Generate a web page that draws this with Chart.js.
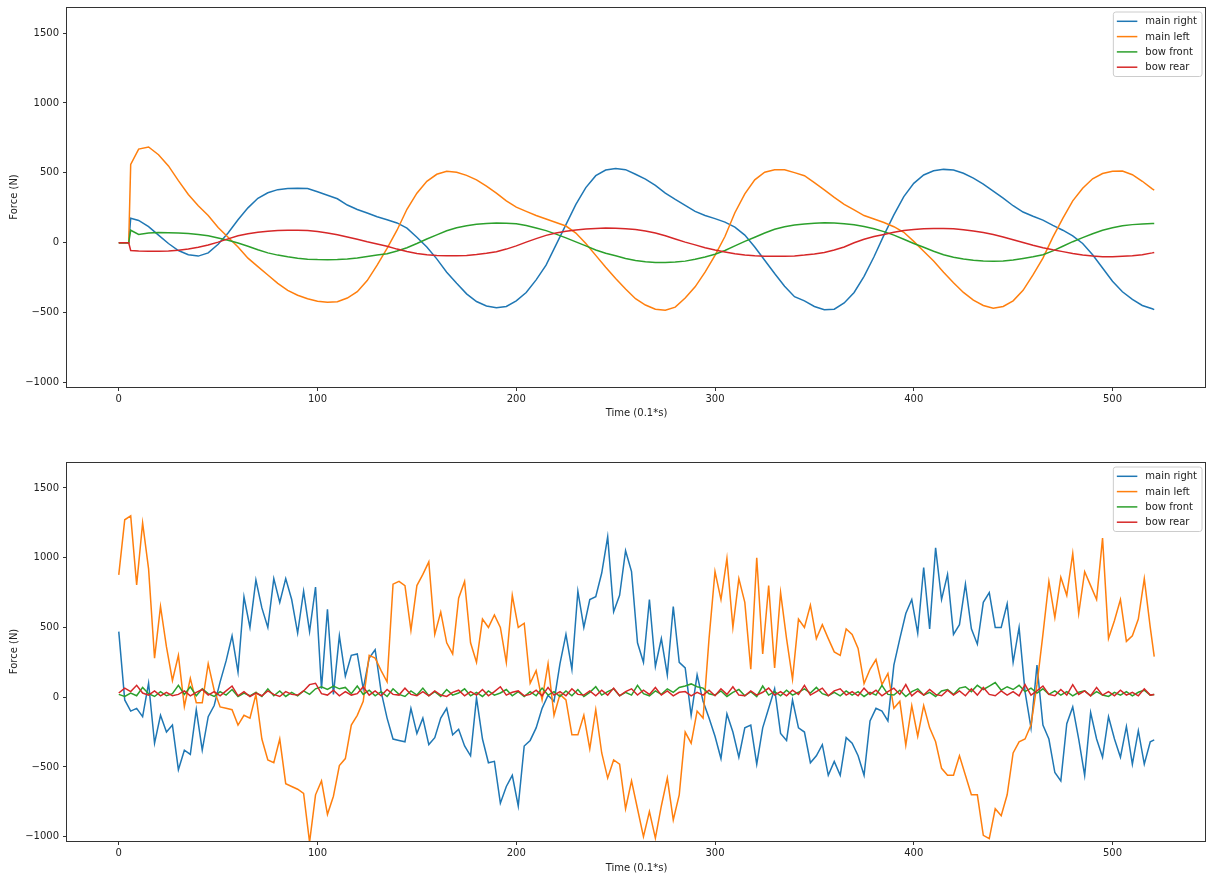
<!DOCTYPE html>
<html>
<head>
<meta charset="utf-8">
<script src="https://cdn.jsdelivr.net/npm/chart.js@4.4.1/dist/chart.umd.min.js"></script>
<style>
  html, body { margin: 0; padding: 0; background: #fff; }
  #wrap { position: relative; width: 1207px; height: 876px; }
  canvas { position: absolute; left: 0; }
</style>
</head>
<body>
<div id="wrap">
  <canvas id="chart-top" width="1207" height="422" style="top:0px"></canvas>
  <canvas id="chart-bottom" width="1207" height="454" style="top:422px"></canvas>
</div>
<script>
const seriesNames = ['main right', 'main left', 'bow front', 'bow rear'];
const seriesColors = ['#1f77b4', '#ff7f0e', '#2ca02c', '#d62728'];
const xTicks = [0, 100, 200, 300, 400, 500];
const yTicks = [-1000, -500, 0, 500, 1000, 1500];
const xRange = [-26.05, 547.05];
const yRange = [-1031, 1686];

// sample times (0.1 s): top plot every 5, plus the start jump and the last sample
const timeTop = [0, 5, 6];
for (let t = 10; t <= 520; t += 5) timeTop.push(t);
timeTop.push(521);

// bottom plot sampled every 3, plus the last sample
const timeBottom = [];
for (let t = 0; t <= 519; t += 3) timeBottom.push(t);
timeBottom.push(521);

// ---- top plot (smooth) ----
const mainRightTop = [0, 0, 175,
  160, 115, 55, -5, -55, -85, -95, -72, -10, 70,
  165, 250, 318, 358, 380, 388, 390, 388, 365, 340,
  315, 270, 238, 213, 186, 165, 142, 105, 40, -30,
  -115, -210, -290, -365, -420, -452, -465, -455, -415, -355,
  -265, -160, -15, 130, 275, 395, 480, 520, 532, 523,
  490, 455, 410, 355, 310, 268, 225, 195, 173, 148,
  112, 55, -30, -125, -220, -310, -385, -415, -455, -478,
  -475, -430, -355, -240, -100, 55, 200, 330, 425, 485,
  515, 525, 520, 497, 462, 420, 370, 320, 265, 220,
  190, 162, 125, 90, 50, -5, -85, -180, -275, -350,
  -405, -448, -472, -478];
const mainLeftTop = [0, 0, 560,
  670, 685, 630, 550, 445, 345, 265, 195, 110, 40,
  -30, -110, -170, -230, -290, -340, -375, -400, -418, -425,
  -422, -395, -350, -270, -160, -40, 90, 240, 355, 440,
  490, 512, 505, 482, 450, 405, 355, 300, 255, 225,
  195, 170, 145, 120, 70, -5, -90, -175, -255, -330,
  -400, -445, -475, -482, -460, -395, -315, -210, -90, 45,
  215, 350, 450, 505, 523, 522, 502, 480, 430, 378,
  325, 275, 235, 195, 170, 145, 115, 75, 10, -60,
  -130, -210, -285, -355, -410, -448, -468, -455, -415, -340,
  -230, -110, 40, 175, 300, 390, 458, 495, 512, 513,
  487, 440, 385, 377];
const bowFrontTop = [0, 0, 90,
  60, 70, 73, 72, 70, 66, 60, 50, 35, 18,
  -2, -25, -50, -72, -88, -100, -110, -117, -120, -121,
  -120, -115, -108, -98, -88, -78, -58, -35, -5, 27,
  57, 86, 108, 122, 132, 138, 141, 140, 136, 124,
  106, 87, 62, 35, 7, -22, -51, -75, -93, -112,
  -126, -135, -140, -141, -138, -131, -118, -102, -82, -55,
  -22, 10, 40, 70, 97, 115, 128, 135, 140, 143,
  141, 136, 129, 116, 100, 80, 55, 25, -5, -32,
  -60, -85, -103, -116, -125, -130, -131, -130, -123, -112,
  -100, -85, -58, -25, 8, 37, 65, 90, 108, 122,
  130, 135, 138, 138];
const bowRearTop = [0, 0, -55,
  -58, -60, -60, -58, -54, -44, -32, -16, 5, 28,
  50, 65, 76, 83, 88, 90, 90, 88, 80, 70,
  58, 42, 25, 7, -8, -25, -45, -62, -76, -85,
  -90, -93, -92, -90, -84, -75, -64, -45, -22, 5,
  30, 53, 70, 82, 92, 98, 102, 105, 104, 101,
  95, 85, 70, 50, 27, 5, -15, -35, -52, -65,
  -78, -87, -93, -96, -97, -97, -94, -88, -80, -70,
  -52, -30, 0, 25, 45, 60, 75, 88, 95, 100,
  102, 102, 100, 94, 85, 74, 60, 42, 22, 2,
  -18, -35, -50, -63, -77, -87, -95, -99, -99, -96,
  -92, -85, -72, -69];

// ---- bottom plot (noisy) ----
const mainRightBottom = [
  470, -20, -100, -80, -140, 100, -330, -130, -250, -200,
  -520, -380, -410, -90, -380, -140, -60, 110, 260, 440,
  180, 720, 500, 840, 640, 500, 850, 680, 850, 700,
  460, 760, 470, 790, 60, 630, 20, 440, 150, 300,
  310, 60, 280, 340, 40, -150, -300, -310, -320, -80,
  -260, -150, -340, -290, -150, -80, -270, -230, -350, -420,
  -5, -300, -470, -460, -760, -640, -560, -780, -350, -310,
  -220, -80, 14, -30, 240, 450, 200, 760, 500, 700,
  720, 890, 1150, 612, 730, 1050, 900, 390, 250, 700,
  220, 420, 160, 650, 250, 210, -130, 160, -30, -150,
  -280, -440, -120, -250, -430, -220, -200, -480, -220, -80,
  60, -260, -310, -20, -220, -250, -470, -420, -340, -560,
  -460, -560, -290, -330, -420, -560, -170, -80, -100, -170,
  230, 420, 600, 700, 460, 930, 490, 1070, 700, 880,
  450, 520, 810, 490, 380, 680, 750, 500, 500, 670,
  250, 500, 40, -220, 230, -200, -300, -540, -600, -190,
  -70, -300, -560, -110, -300, -430, -140, -300, -430, -210,
  -480, -240, -480, -320, -306];
const mainLeftBottom = [
  877, 1272, 1300, 805, 1250, 920, 280, 650, 360, 120,
  300, -67, 135, -40, -40, 240, 50, -70, -80, -90,
  -200, -130, -150, 20, -300, -450, -470, -300, -620, -640,
  -660, -690, -1040, -700, -600, -840, -710, -490, -440, -200,
  -130, -30, 300, 280, 190, 110, 810, 830, 800, 480,
  800, 880, 970, 450, 610, 390, 310, 710, 830, 390,
  250, 560, 500, 590, 500, 250, 730, 500, 530, 100,
  190, -20, 240, -130, 20, -20, -270, -270, -130, -370,
  -90, -400, -580, -450, -480, -800, -600, -800, -1000, -820,
  -1010, -780, -580, -880, -700, -250, -330, -100, -150, 420,
  900, 700, 995, 500, 850, 680, 200, 1000, 310, 800,
  210, 750, 420, 130, 560, 500, 660, 420, 520, 420,
  325, 300, 490, 450, 350, 98, 200, 270, 90, 170,
  -80, -30, -345, -60, -280, -60, -220, -320, -510, -560,
  -560, -420, -560, -700, -700, -990, -1014, -800, -850, -700,
  -400, -320, -300, -200, 90, 450, 830, 570, 860, 730,
  1030, 600, 900, 800, 700, 1140, 420, 550, 700, 400,
  440, 560, 850, 500, 291];
const bowFrontBottom = [
  20, 5, 30, 10, 70, 25, 5, 40, 10, 25,
  85, 20, 75, 10, 60, 25, 5, 40, 15, 55,
  5, 30, 10, 35, 5, 60, 10, 45, 5, 35,
  10, 45, 20, 60, 75, 55, 80, 60, 70, 25,
  80, 20, 50, 10, 40, 5, 60, 20, 5, 45,
  15, 65, 10, 40, 5, 55, 15, 30, 60, 10,
  35, 5, 45, 15, 30, 55, 10, 40, 5, 40,
  10, 65, 15, 40, 5, 45, 10, 55, 5, 35,
  75, 15, 40, 60, 10, 35, 15, 85, 25, 10,
  45, 20, 60, 35, 70, 80, 95, 75, 65, 25,
  15, 45, 5, 35, 55, 10, 40, 5, 80, 15,
  40, 10, 50, 15, 35, 60, 30, 70, 25, 10,
  35, 10, 45, 15, 40, 5, 35, 15, 85, 20,
  15, 50, 5, 40, 60, 15, 35, 5, 45, 55,
  20, 65, 75, 40, 85, 55, 80, 105, 50, 75,
  55, 85, 40, 65, 30, 60, 20, 45, 15, 40,
  10, 35, 45, 10, 40, 15, 5, 35, 15, 40,
  10, 35, 50, 15, 20];
const bowRearBottom = [
  30, 65, 40, 85, 30, 15, 45, 10, 35, 10,
  20, 45, 10, 35, 55, 15, 40, 10, 45, 80,
  10, 40, 5, 30, 10, 45, 20, 5, 40, 20,
  15, 45, 90, 100, 25, 15, 50, 10, 40, 15,
  25, 75, 15, 45, 10, 55, 20, 15, 65, 20,
  10, 40, 10, 45, 15, 5, 35, 50, 10, 40,
  15, 55, 10, 40, 75, 15, 35, 45, 10, 20,
  50, 10, 70, 15, 40, 10, 60, 20, 15, 45,
  10, 50, 15, 65, 10, 40, 60, 15, 50, 20,
  70, 15, 45, 10, 35, 40, 10, 35, 15, 50,
  10, 60, 20, 75, 15, 10, 45, 15, 35, 65,
  15, 40, 10, 50, 20, 85, 15, 40, 65, 10,
  45, 60, 15, 40, 10, 65, 20, 50, 10, 40,
  65, 20, 90, 10, 45, 15, 55, 20, 10, 50,
  15, 45, 10, 60, 15, 70, 20, 10, 45, 15,
  40, 10, 90, 15, 45, 80, 20, 10, 55, 15,
  90, 20, 45, 10, 70, 15, 40, 10, 50, 15,
  35, 10, 60, 15, 20];

const FONT = '"DejaVu Sans", "Liberation Sans", sans-serif';
const TEXT = '#222';

// full box around the plot area, like matplotlib spines
const axesFrame = {
  id: 'axesFrame',
  afterDatasetsDraw(chart) {
    const { ctx, chartArea: a } = chart;
    ctx.save();
    ctx.strokeStyle = '#333';
    ctx.lineWidth = 1;
    ctx.strokeRect(a.left - 0.5, a.top + 0.5, a.right - a.left, a.bottom - a.top);
    ctx.restore();
  }
};

// legend drawn inside the plot, upper right
const legendBox = {
  id: 'legendBox',
  afterDraw(chart) {
    const { ctx, chartArea: a } = chart;
    ctx.save();
    ctx.font = '10px ' + FONT;
    const textW = Math.max(...seriesNames.map(n => ctx.measureText(n).width));
    const w = 4 + 20 + 8 + textW + 5;
    const rowH = 15.3;
    const h = 9.3 * 2 + rowH * 3;
    const right = a.right - 4;
    const left = right - w;
    const top = a.top + 5;
    const r = 2.5;
    ctx.beginPath();
    ctx.moveTo(left + r, top);
    ctx.arcTo(right, top, right, top + h, r);
    ctx.arcTo(right, top + h, left, top + h, r);
    ctx.arcTo(left, top + h, left, top, r);
    ctx.arcTo(left, top, right, top, r);
    ctx.closePath();
    ctx.fillStyle = 'rgba(255,255,255,0.8)';
    ctx.fill();
    ctx.strokeStyle = '#cccccc';
    ctx.lineWidth = 1;
    ctx.stroke();
    ctx.textBaseline = 'middle';
    ctx.fillStyle = TEXT;
    seriesNames.forEach((name, i) => {
      const y = top + 9.3 + i * rowH;
      ctx.strokeStyle = seriesColors[i];
      ctx.lineWidth = 1.5;
      ctx.beginPath();
      ctx.moveTo(left + 3.5, y);
      ctx.lineTo(left + 24, y);
      ctx.stroke();
      ctx.fillText(name, left + 32, y + 0.5);
    });
    ctx.restore();
  }
};

function makeChart(canvasId, time, series, padTop, titlePad) {
  return new Chart(document.getElementById(canvasId), {
    type: 'line',
    data: {
      datasets: series.map((vals, i) => ({
        label: seriesNames[i],
        data: time.map((t, k) => ({ x: t, y: vals[k] })),
        borderColor: seriesColors[i],
        borderWidth: 1.5,
        pointRadius: 0,
        fill: false,
        tension: 0,
        order: series.length - i
      }))
    },
    options: {
      responsive: false,
      animation: false,
      devicePixelRatio: 1,
      layout: { padding: { top: padTop, right: 1, bottom: 0, left: 0 } },
      plugins: { legend: { display: false }, tooltip: { enabled: false } },
      scales: {
        x: {
          type: 'linear',
          min: xRange[0],
          max: xRange[1],
          afterBuildTicks: s => { s.ticks = xTicks.map(v => ({ value: v })); },
          afterFit: s => { s.height = 35; s.paddingLeft = 0; s.paddingRight = 0; },
          border: { display: false },
          grid: { display: true, drawOnChartArea: false, drawTicks: true, tickLength: 4, color: '#333' },
          ticks: { color: TEXT, font: { family: FONT, size: 10 }, padding: 2, maxRotation: 0 },
          title: { display: true, text: 'Time (0.1*s)', color: TEXT, font: { family: FONT, size: 10 }, padding: { top: 0, bottom: titlePad } }
        },
        y: {
          type: 'linear',
          min: yRange[0],
          max: yRange[1],
          afterBuildTicks: s => { s.ticks = yTicks.map(v => ({ value: v })); },
          afterFit: s => { s.width = 67; s.paddingTop = 0; s.paddingBottom = 0; },
          border: { display: false },
          grid: { display: true, drawOnChartArea: false, drawTicks: true, tickLength: 4, color: '#333' },
          ticks: {
            color: TEXT, font: { family: FONT, size: 10 }, padding: 4,
            callback: v => v < 0 ? '\u2212' + Math.abs(v) : String(v)
          },
          title: { display: true, text: 'Force (N)', color: TEXT, font: { family: FONT, size: 10 }, padding: { top: 8, bottom: 0 } }
        }
      }
    },
    plugins: [axesFrame, legendBox]
  });
}

makeChart('chart-top', timeTop, [mainRightTop, mainLeftTop, bowFrontTop, bowRearTop], 7, 3);
makeChart('chart-bottom', timeBottom, [mainRightBottom, mainLeftBottom, bowFrontBottom, bowRearBottom], 40, 2);
</script>
</body>
</html>
